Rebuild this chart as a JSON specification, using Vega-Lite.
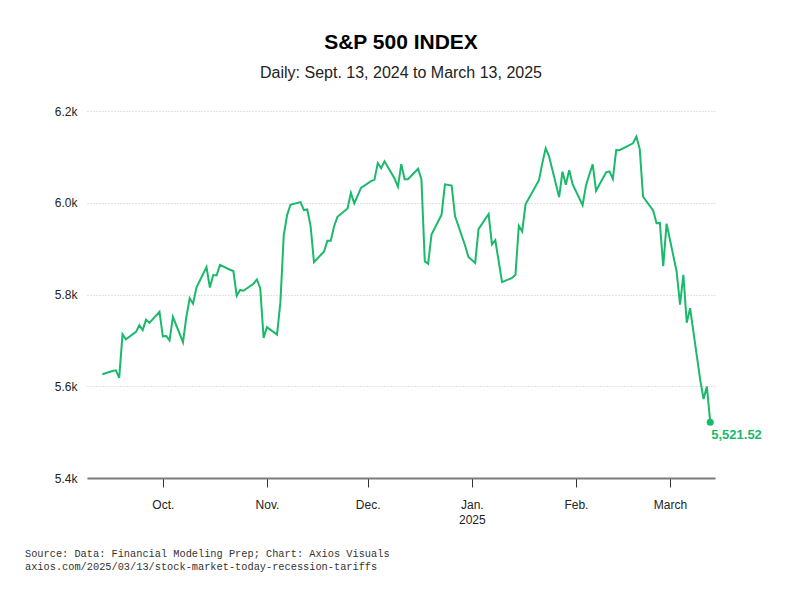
{
  "$schema": "https://vega.github.io/schema/vega-lite/v6.json",
  "background": "white",
  "padding": {"left": 25, "top": 32, "right": 10, "bottom": 10},
  "config": {"view": {"stroke": null}, "font": "Liberation Sans"},
  "title": {
    "text": "Source: Data: Financial Modeling Prep; Chart: Axios Visuals",
    "subtitle": "axios.com/2025/03/13/stock-market-today-recession-tariffs",
    "orient": "bottom",
    "anchor": "start",
    "frame": "bounds",
    "font": "Liberation Mono",
    "fontSize": 10.3,
    "fontWeight": "normal",
    "color": "#333333",
    "subtitleFont": "Liberation Mono",
    "subtitleFontSize": 10.3,
    "subtitleColor": "#333333",
    "subtitlePadding": 3,
    "offset": 24
  },
  "vconcat": [
    {
      "title": {
        "text": "S&P 500 INDEX",
        "subtitle": "Daily: Sept. 13, 2024 to March 13, 2025",
        "anchor": "middle",
        "frame": "group",
        "fontSize": 21,
        "fontWeight": "bold",
        "color": "#000000",
        "subtitleFontSize": 16,
        "subtitleColor": "#222222",
        "subtitlePadding": 12,
        "offset": 24
      },
      "width": 628,
      "height": 367,
      "data": {
        "values": [
          {"date": "2024-09-13", "close": 5626.02},
          {"date": "2024-09-16", "close": 5633.09},
          {"date": "2024-09-17", "close": 5634.58},
          {"date": "2024-09-18", "close": 5618.26},
          {"date": "2024-09-19", "close": 5713.64},
          {"date": "2024-09-20", "close": 5702.55},
          {"date": "2024-09-23", "close": 5718.57},
          {"date": "2024-09-24", "close": 5732.93},
          {"date": "2024-09-25", "close": 5722.26},
          {"date": "2024-09-26", "close": 5745.37},
          {"date": "2024-09-27", "close": 5738.17},
          {"date": "2024-09-30", "close": 5762.48},
          {"date": "2024-10-01", "close": 5708.75},
          {"date": "2024-10-02", "close": 5709.54},
          {"date": "2024-10-03", "close": 5699.94},
          {"date": "2024-10-04", "close": 5751.07},
          {"date": "2024-10-07", "close": 5695.94},
          {"date": "2024-10-08", "close": 5751.13},
          {"date": "2024-10-09", "close": 5792.04},
          {"date": "2024-10-10", "close": 5780.05},
          {"date": "2024-10-11", "close": 5815.03},
          {"date": "2024-10-14", "close": 5859.85},
          {"date": "2024-10-15", "close": 5815.26},
          {"date": "2024-10-16", "close": 5842.47},
          {"date": "2024-10-17", "close": 5841.47},
          {"date": "2024-10-18", "close": 5864.67},
          {"date": "2024-10-21", "close": 5853.98},
          {"date": "2024-10-22", "close": 5851.2},
          {"date": "2024-10-23", "close": 5797.42},
          {"date": "2024-10-24", "close": 5809.86},
          {"date": "2024-10-25", "close": 5808.12},
          {"date": "2024-10-28", "close": 5823.52},
          {"date": "2024-10-29", "close": 5832.92},
          {"date": "2024-10-30", "close": 5813.67},
          {"date": "2024-10-31", "close": 5705.45},
          {"date": "2024-11-01", "close": 5728.8},
          {"date": "2024-11-04", "close": 5712.69},
          {"date": "2024-11-05", "close": 5782.76},
          {"date": "2024-11-06", "close": 5929.04},
          {"date": "2024-11-07", "close": 5973.1},
          {"date": "2024-11-08", "close": 5995.54},
          {"date": "2024-11-11", "close": 6001.35},
          {"date": "2024-11-12", "close": 5983.99},
          {"date": "2024-11-13", "close": 5985.38},
          {"date": "2024-11-14", "close": 5949.17},
          {"date": "2024-11-15", "close": 5870.62},
          {"date": "2024-11-18", "close": 5893.62},
          {"date": "2024-11-19", "close": 5916.98},
          {"date": "2024-11-20", "close": 5917.11},
          {"date": "2024-11-21", "close": 5948.71},
          {"date": "2024-11-22", "close": 5969.34},
          {"date": "2024-11-25", "close": 5987.37},
          {"date": "2024-11-26", "close": 6021.63},
          {"date": "2024-11-27", "close": 5998.74},
          {"date": "2024-11-29", "close": 6032.38},
          {"date": "2024-12-02", "close": 6047.15},
          {"date": "2024-12-03", "close": 6049.88},
          {"date": "2024-12-04", "close": 6086.49},
          {"date": "2024-12-05", "close": 6075.11},
          {"date": "2024-12-06", "close": 6090.27},
          {"date": "2024-12-09", "close": 6052.85},
          {"date": "2024-12-10", "close": 6034.91},
          {"date": "2024-12-11", "close": 6084.19},
          {"date": "2024-12-12", "close": 6051.25},
          {"date": "2024-12-13", "close": 6051.09},
          {"date": "2024-12-16", "close": 6074.08},
          {"date": "2024-12-17", "close": 6050.61},
          {"date": "2024-12-18", "close": 5872.16},
          {"date": "2024-12-19", "close": 5867.08},
          {"date": "2024-12-20", "close": 5930.85},
          {"date": "2024-12-23", "close": 5974.07},
          {"date": "2024-12-24", "close": 6040.04},
          {"date": "2024-12-26", "close": 6037.59},
          {"date": "2024-12-27", "close": 5970.84},
          {"date": "2024-12-30", "close": 5906.94},
          {"date": "2024-12-31", "close": 5881.63},
          {"date": "2025-01-02", "close": 5868.55},
          {"date": "2025-01-03", "close": 5942.47},
          {"date": "2025-01-06", "close": 5975.38},
          {"date": "2025-01-07", "close": 5909.03},
          {"date": "2025-01-08", "close": 5918.25},
          {"date": "2025-01-10", "close": 5827.04},
          {"date": "2025-01-13", "close": 5836.22},
          {"date": "2025-01-14", "close": 5842.91},
          {"date": "2025-01-15", "close": 5949.91},
          {"date": "2025-01-16", "close": 5937.34},
          {"date": "2025-01-17", "close": 5996.66},
          {"date": "2025-01-21", "close": 6049.24},
          {"date": "2025-01-22", "close": 6086.37},
          {"date": "2025-01-23", "close": 6118.71},
          {"date": "2025-01-24", "close": 6101.24},
          {"date": "2025-01-27", "close": 6012.28},
          {"date": "2025-01-28", "close": 6067.7},
          {"date": "2025-01-29", "close": 6039.31},
          {"date": "2025-01-30", "close": 6071.17},
          {"date": "2025-01-31", "close": 6040.53},
          {"date": "2025-02-03", "close": 5994.57},
          {"date": "2025-02-04", "close": 6037.88},
          {"date": "2025-02-05", "close": 6061.48},
          {"date": "2025-02-06", "close": 6083.57},
          {"date": "2025-02-07", "close": 6025.99},
          {"date": "2025-02-10", "close": 6066.44},
          {"date": "2025-02-11", "close": 6068.5},
          {"date": "2025-02-12", "close": 6051.97},
          {"date": "2025-02-13", "close": 6115.07},
          {"date": "2025-02-14", "close": 6114.63},
          {"date": "2025-02-18", "close": 6129.58},
          {"date": "2025-02-19", "close": 6144.15},
          {"date": "2025-02-20", "close": 6117.52},
          {"date": "2025-02-21", "close": 6013.13},
          {"date": "2025-02-24", "close": 5983.25},
          {"date": "2025-02-25", "close": 5955.25},
          {"date": "2025-02-26", "close": 5956.06},
          {"date": "2025-02-27", "close": 5861.57},
          {"date": "2025-02-28", "close": 5954.5},
          {"date": "2025-03-03", "close": 5849.72},
          {"date": "2025-03-04", "close": 5778.15},
          {"date": "2025-03-05", "close": 5842.63},
          {"date": "2025-03-06", "close": 5738.52},
          {"date": "2025-03-07", "close": 5770.2},
          {"date": "2025-03-10", "close": 5614.56},
          {"date": "2025-03-11", "close": 5572.07},
          {"date": "2025-03-12", "close": 5599.3},
          {"date": "2025-03-13", "close": 5521.52}
        ]
      },
      "encoding": {
        "x": {
          "field": "date",
          "type": "temporal",
          "scale": {
            "type": "utc",
            "domain": [
              {"year": 2024, "month": 9, "date": 8, "hours": 10, "utc": true},
              {"year": 2025, "month": 3, "date": 14, "hours": 10, "utc": true}
            ]
          },
          "axis": {
            "title": null,
            "grid": false,
            "values": [
              {"year": 2024, "month": 10, "date": 1, "utc": true},
              {"year": 2024, "month": 11, "date": 1, "utc": true},
              {"year": 2024, "month": 12, "date": 1, "utc": true},
              {"year": 2025, "month": 1, "date": 1, "utc": true},
              {"year": 2025, "month": 2, "date": 1, "utc": true},
              {"year": 2025, "month": 3, "date": 1, "utc": true}
            ],
            "labelExpr": "utcmonth(datum.value) == 0 ? ['Jan.', '2025'] : (utcmonth(datum.value) == 2 ? 'March' : utcFormat(datum.value, '%b') + '.')",
            "domainColor": "#7a7a7a",
            "domainWidth": 2,
            "tickColor": "#333333",
            "tickSize": 9,
            "tickWidth": 1,
            "labelPadding": 12,
            "labelFontSize": 12,
            "labelColor": "#222222",
            "labelLineHeight": 15
          }
        },
        "y": {
          "field": "close",
          "type": "quantitative",
          "scale": {"domain": [5400, 6200], "nice": false, "zero": false},
          "axis": {
            "title": null,
            "values": [5400, 5600, 5800, 6000, 6200],
            "format": ".2s",
            "domain": false,
            "ticks": false,
            "grid": true,
            "gridColor": "#c4c4c4",
            "gridDash": [1, 2],
            "labelPadding": 10,
            "labelFontSize": 12,
            "labelColor": "#222222",
            "minExtent": 62,
            "maxExtent": 62
          }
        }
      },
      "layer": [
        {
          "mark": {"type": "line", "color": "#1ab96b", "strokeWidth": 2}
        },
        {
          "transform": [{"filter": "time(datum.date) == utc(2025, 2, 13)"}],
          "mark": {"type": "point", "filled": true, "color": "#1ab96b", "size": 50, "opacity": 1}
        },
        {
          "transform": [{"filter": "time(datum.date) == utc(2025, 2, 13)"}],
          "mark": {"type": "text", "color": "#1ab96b", "fontWeight": "bold", "fontSize": 13, "align": "left", "baseline": "top", "dx": 1, "dy": 7},
          "encoding": {"text": {"field": "close", "type": "quantitative", "format": ",.2f"}}
        }
      ]
    }
  ]
}
